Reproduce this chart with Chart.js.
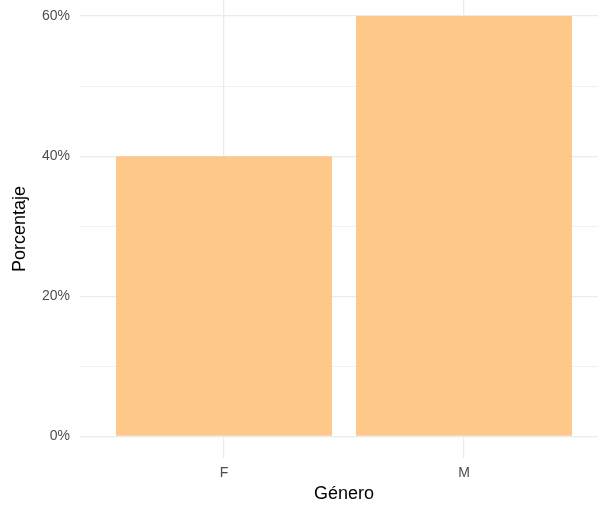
<!DOCTYPE html>
<html>
<head>
<meta charset="utf-8">
<script src="https://cdn.jsdelivr.net/npm/chart.js@4/dist/chart.umd.min.js"></script>
<style>
  html, body { margin: 0; padding: 0; background: #fff; overflow: hidden; }
  #wrap { width: 608px; height: 508px; }
</style>
</head>
<body>
<div id="wrap"><canvas id="myChart" width="608" height="508"></canvas></div>
<script>
const categories = ['F', 'M']
const percentages = [40, 60]
const yTicks = [0, 10, 20, 30, 40, 50, 60]

function render_chart() {
    const gridColor = '#EBEBEB'
    const font = 'Liberation Sans, Arial, Helvetica, sans-serif'

    const data = {
        datasets: [
            {
                label: 'Porcentaje',
                data: categories.map((c, i) => ({ x: i + 1, y: percentages[i] })),
                backgroundColor: '#FDC98A',
                borderWidth: 0,
                barPercentage: 0.9,
                categoryPercentage: 1,
            },
        ],
    }

    const config = {
        type: 'bar',
        data: data,
        options: {
            responsive: false,
            animation: false,
            layout: { padding: 0 },
            plugins: { legend: { display: false }, tooltip: { enabled: false } },
            scales: {
                x: {
                    type: 'linear',
                    min: 0.4,
                    max: 2.6,
                    offset: false,
                    border: { display: false },
                    grid: { color: gridColor, lineWidth: 1.3, drawTicks: false, offset: false },
                    afterBuildTicks: (s) => { s.ticks = categories.map((c, i) => ({ value: i + 1 })) },
                    afterFit: (s) => { s.height = 50; s.paddingLeft = 0; s.paddingRight = 0 },
                    ticks: {
                        padding: 7,
                        color: '#4D4D4D',
                        font: { family: font, size: 14 },
                        callback: (v) => categories[Math.round(v) - 1] || '',
                    },
                    title: {
                        display: true,
                        text: 'Género',
                        color: '#000',
                        font: { family: font, size: 18 },
                        padding: { top: 0, bottom: 3 },
                    },
                },
                y: {
                    min: -3.1,
                    max: 62.3,
                    border: { display: false },
                    grid: {
                        color: gridColor,
                        drawTicks: false,
                        lineWidth: (ctx) => (ctx.tick && ctx.tick.value % 20 === 0 ? 1.3 : 0.7),
                    },
                    afterBuildTicks: (s) => { s.ticks = yTicks.map((v) => ({ value: v })) },
                    afterFit: (s) => { s.width = 80; s.paddingTop = 0; s.paddingBottom = 0 },
                    ticks: {
                        padding: 10,
                        color: '#4D4D4D',
                        font: { family: font, size: 14 },
                        callback: (v) => (v % 20 === 0 ? v + '%' : ''),
                    },
                    title: {
                        display: true,
                        text: 'Porcentaje',
                        color: '#000',
                        font: { family: font, size: 18 },
                        padding: { top: 9, bottom: 0 },
                    },
                },
            },
        },
    }

    const myChart = new Chart(document.getElementById('myChart'), config)
}

document.addEventListener('DOMContentLoaded', render_chart)
</script>
</body>
</html>
